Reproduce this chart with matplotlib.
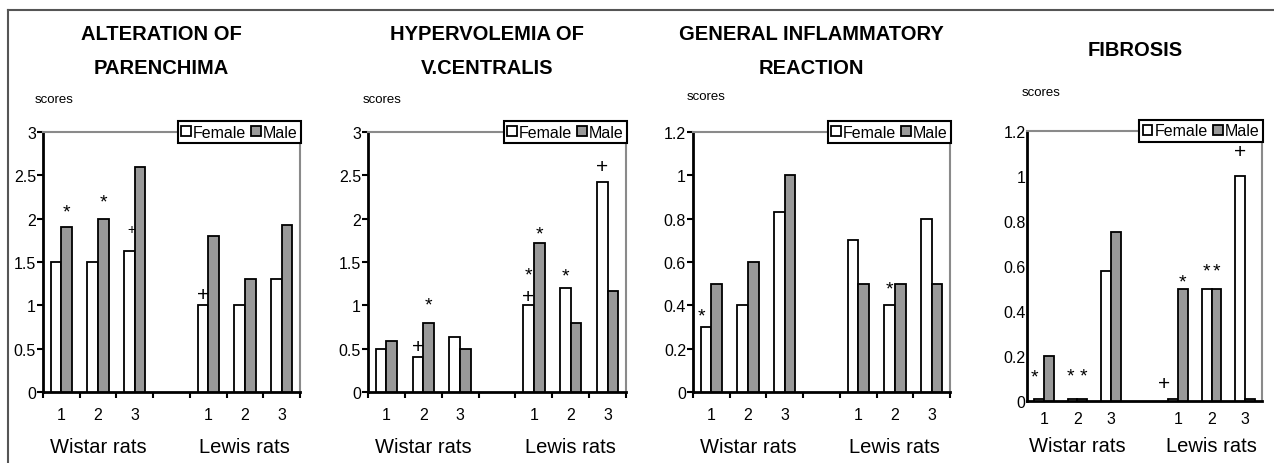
import matplotlib.pyplot as plt
import numpy as np

plt.rcParams['font.family'] = ['Liberation Sans Narrow', 'Liberation Sans', 'DejaVu Sans']

W, H = 1274, 464

titles = ["ALTERATION OF\nPARENCHIMA", "HYPERVOLEMIA OF\nV.CENTRALIS",
          "GENERAL INFLAMMATORY\nREACTION", "FIBROSIS"]
groups = ["1", "2", "3", "", "1", "2", "3"]
strains = ["Wistar rats", "Lewis rats"]

# scores per group: Wistar 1-3, empty slot, Lewis 1-3
parenchyma_f = [1.5, 1.5, 1.63, np.nan, 1.0, 1.0, 1.3]
parenchyma_m = [1.9, 2.0, 2.6, np.nan, 1.8, 1.3, 1.93]
centralis_f = [0.5, 0.4, 0.63, np.nan, 1.0, 1.2, 2.42]
centralis_m = [0.59, 0.8, 0.5, np.nan, 1.72, 0.8, 1.16]
inflam_f = [0.3, 0.4, 0.83, np.nan, 0.7, 0.4, 0.8]
inflam_m = [0.5, 0.6, 1.0, np.nan, 0.5, 0.5, 0.5]
fibrosis_f = [0.01, 0.01, 0.58, np.nan, 0.01, 0.5, 1.0]
fibrosis_m = [0.2, 0.01, 0.75, np.nan, 0.5, 0.5, 0.01]

female = [parenchyma_f, centralis_f, inflam_f, fibrosis_f]
male = [parenchyma_m, centralis_m, inflam_m, fibrosis_m]

ytops = [3, 3, 1.2, 1.2]
yticks = [[0, 0.5, 1, 1.5, 2, 2.5, 3]] * 2 + [[0, 0.2, 0.4, 0.6, 0.8, 1, 1.2]] * 2
ylabels = [["0", "0.5", "1", "1.5", "2", "2.5", "3"]] * 2 + \
          [["0", "0.2", "0.4", "0.6", "0.8", "1", "1.2"]] * 2

# significance marks: (group, side, symbol, y, fontsize); side -1 female, +1 male
marks = [
    [(0, 1, "*", 2.08, 14), (1, 1, "*", 2.19, 14), (2, -0.6, "+", 1.88, 10),
     (4, -1, "+", 1.12, 15)],
    [(1, -1, "+", 0.53, 15), (1, 1, "*", 1.0, 14), (4, -1, "*", 1.35, 14),
     (4, -1, "+", 1.10, 15), (4, 1, "*", 1.82, 14), (5, -1, "*", 1.34, 14),
     (6, -1, "+", 2.6, 15)],
    [(0, -1.8, "*", 0.35, 14), (5, -1, "*", 0.475, 14)],
    [(0, -2.0, "*", 0.107, 14), (1, 0, "* *", 0.107, 14), (4, -2.8, "+", 0.08, 15),
     (4, 1, "*", 0.53, 14), (5, -1, "*", 0.58, 14), (5, 1, "*", 0.58, 14),
     (6, -1, "+", 1.11, 15)],
]

# axes boxes in pixels: left, top, right, bottom
rects = [(43, 133, 300, 393), (368, 133, 626, 393), (693, 133, 950, 393), (1027, 132, 1262, 402)]
title_y = [51, 51, 51, 50]
scores_xy = [(35, 100), (363, 100), (687, 97), (1022, 93)]
strain_y = [448, 448, 448, 447]

fig = plt.figure(figsize=(W / 100, H / 100), dpi=100)

bw = 0.29
x = np.arange(len(groups))

for k in range(4):
    l, t, r, b = rects[k]
    ax = fig.add_axes([l / W, 1 - b / H, (r - l) / W, (b - t) / H])
    ax.bar(x - bw / 2, female[k], bw, color="white", edgecolor="black", linewidth=1.3,
           label="Female", zorder=3)
    ax.bar(x + bw / 2, male[k], bw, color="#999999", edgecolor="black", linewidth=1.3,
           label="Male", zorder=3)
    ax.set_xlim(-0.5, len(groups) - 0.5)
    ax.set_ylim(0, ytops[k])

    for side in ["left", "bottom"]:
        ax.spines[side].set_linewidth(2)
        ax.spines[side].set_color("black")
    for side in ["top", "right"]:
        ax.spines[side].set_linewidth(1.5)
        ax.spines[side].set_color("#8a8a8a")

    ax.set_yticks(yticks[k])
    ax.set_yticklabels(ylabels[k], fontsize=11.5)
    ax.set_xticks(np.arange(len(groups) + 1) - 0.5)
    ax.set_xticklabels([])
    ax.set_xticks(x, minor=True)
    ax.set_xticklabels(groups, minor=True, fontsize=11.5)
    tl = 0 if k == 3 else 4
    ax.tick_params(axis="x", which="major", length=tl, width=1.5, direction="out")
    ax.tick_params(axis="x", which="minor", length=0, pad=11 if k < 3 else 7)
    ax.tick_params(axis="y", length=tl, width=1.5, pad=1)

    ax.legend(loc="center right", bbox_to_anchor=(1.005, 1.0), ncol=2, fontsize=11.5,
              frameon=True, fancybox=False, framealpha=1, edgecolor="black",
              handlelength=0.6, handleheight=0.6, handletextpad=0.15,
              columnspacing=0.3, borderpad=0.22, borderaxespad=0)
    ax.get_legend().get_frame().set_linewidth(1.5)

    gy = -((strain_y[k] - b) / (b - t))
    for name, pos in zip(strains, [1, 5]):
        ax.text(pos, gy, name, transform=ax.get_xaxis_transform(), ha="center",
                va="center", fontsize=14.5)

    for g, side, sym, yv, fs in marks[k]:
        ax.text(g + side * bw / 2, yv, sym, ha="center", va="center", fontsize=fs,
                zorder=4)

    fig.text((l + 0.46 * (r - l)) / W, 1 - title_y[k] / H, titles[k], ha="center",
             va="center", fontsize=14.5, fontweight="bold", linespacing=2.0)
    sx, sy = scores_xy[k]
    fig.text(sx / W, 1 - sy / H, "scores", ha="left", va="center", fontsize=9.5)

# outer frame: top and left edges
fig.add_artist(plt.Line2D([8 / W, 1], [1 - 11 / H, 1 - 11 / H], color="#555555", lw=1.5))
fig.add_artist(plt.Line2D([8 / W, 8 / W], [0, 1 - 11 / H], color="#555555", lw=1.5))

fig.savefig("out.png", dpi=100)
